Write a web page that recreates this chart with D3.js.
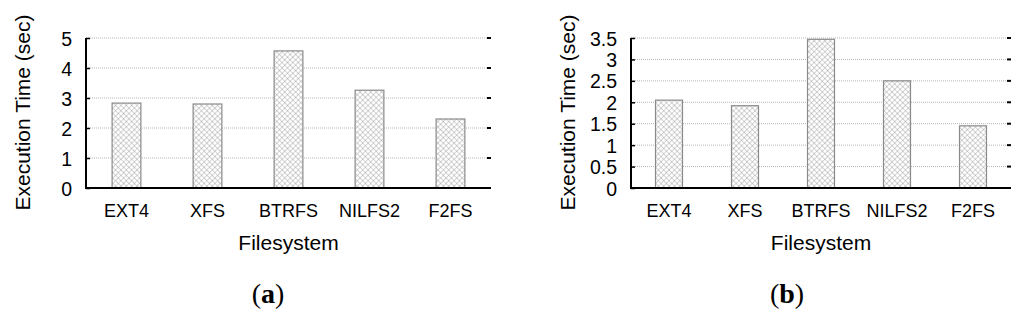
<!DOCTYPE html>
<html>
<head>
<meta charset="utf-8">
<script src="https://cdn.jsdelivr.net/npm/d3@7"></script>
<style>
  body { margin: 0; background: #fff; }
  svg { display: block; }
  text { font-family: "Liberation Sans", Arial, sans-serif; fill: #000; }
</style>
</head>
<body>
<div id="chart"></div>
<script>
const categories = ["EXT4", "XFS", "BTRFS", "NILFS2", "F2FS"];
const valuesA = [2.83, 2.8, 4.57, 3.26, 2.3];
const valuesB = [2.05, 1.92, 3.47, 2.5, 1.45];
const ticksA = [0, 1, 2, 3, 4, 5];
const ticksB = [0, 0.5, 1, 1.5, 2, 2.5, 3, 3.5];

const width = 1024, height = 321;

let svg = d3.select("#chart")
    .append("svg")
    .attr("width", width)
    .attr("height", height);

// crosshatch fill for the bars
let pat = svg.append("defs").append("pattern")
    .attr("id", "hatch")
    .attr("patternUnits", "userSpaceOnUse")
    .attr("width", 3.8)
    .attr("height", 3.8)
    .attr("patternTransform", "rotate(45)");
pat.append("rect").attr("width", 3.8).attr("height", 3.8).attr("fill", "#fff");
pat.append("path")
    .attr("d", "M0,0H3.8M0,0V3.8")
    .attr("stroke", "#949494")
    .attr("stroke-width", 0.8);

function drawPanel(values, ticks, yMax, left, right, tickFmt, caption, captionX) {
    const top = 38, bottom = 188;

    let x = d3.scaleBand()
        .domain(categories)
        .range([left, right])
        .paddingInner(0.645)
        .paddingOuter(0.3225);

    let y = d3.scaleLinear()
        .domain([0, yMax])
        .range([bottom, top]);

    let g = svg.append("g");

    // dotted grid lines
    g.selectAll(".grid")
        .data(ticks.filter(t => t > 0))
        .join("line")
        .attr("x1", left)
        .attr("x2", right)
        .attr("y1", d => y(d))
        .attr("y2", d => y(d))
        .attr("stroke", "#b5b5b5")
        .attr("stroke-width", 1)
        .attr("stroke-dasharray", "1,1");

    // right-side tick marks
    g.selectAll(".rtick")
        .data(ticks.filter(t => t > 0))
        .join("line")
        .attr("x1", right - 4)
        .attr("x2", right)
        .attr("y1", d => y(d))
        .attr("y2", d => y(d))
        .attr("stroke", "#000")
        .attr("stroke-width", 2);

    // bars
    g.selectAll(".bar")
        .data(values)
        .join("rect")
        .attr("x", (d, i) => x(categories[i]))
        .attr("width", x.bandwidth())
        .attr("y", d => y(d))
        .attr("height", d => y(0) - y(d))
        .attr("fill", "url(#hatch)")
        .attr("stroke", "#8a8a8a")
        .attr("stroke-width", 1.2);

    // left axis
    let yAxis = g.append("g")
        .attr("transform", `translate(${left},0)`)
        .call(d3.axisLeft(y).tickValues(ticks).tickFormat(tickFmt).tickSize(-4).tickPadding(14));
    yAxis.select(".domain").attr("stroke-width", 2).attr("d", `M0,${top}V${bottom}`);
    yAxis.selectAll(".tick line").attr("stroke-width", 1.5);
    yAxis.selectAll("text").style("font-size", "19.5px").attr("dy", "0.36em");

    // bottom axis line
    g.append("line")
        .attr("x1", left - 1)
        .attr("x2", right)
        .attr("y1", bottom)
        .attr("y2", bottom)
        .attr("stroke", "#000")
        .attr("stroke-width", 2);

    // category labels
    g.selectAll(".xlab")
        .data(categories)
        .join("text")
        .attr("x", d => x(d) + x.bandwidth() / 2)
        .attr("y", 217)
        .attr("text-anchor", "middle")
        .style("font-size", "18px")
        .text(d => d);

    // axis titles
    g.append("text")
        .attr("x", (left + right) / 2)
        .attr("y", 250)
        .attr("text-anchor", "middle")
        .style("font-size", "21px")
        .text("Filesystem");

    g.append("text")
        .attr("transform", `translate(${left - 56},112.5) rotate(-90)`)
        .attr("text-anchor", "middle")
        .style("font-size", "21px")
        .text("Execution Time (sec)");

    // panel caption
    let cap = g.append("text")
        .attr("x", captionX)
        .attr("y", 303)
        .attr("text-anchor", "middle")
        .style("font-family", "'Liberation Serif', 'Times New Roman', serif")
        .style("font-size", "28px");
    cap.append("tspan").text("(");
    cap.append("tspan").style("font-weight", "bold").text(caption);
    cap.append("tspan").text(")");
}

drawPanel(valuesA, ticksA, 5, 86, 491, d3.format("d"), "a", 268);
drawPanel(valuesB, ticksB, 3.5, 631, 1011, d => String(d), "b", 787);
</script>
</body>
</html>
